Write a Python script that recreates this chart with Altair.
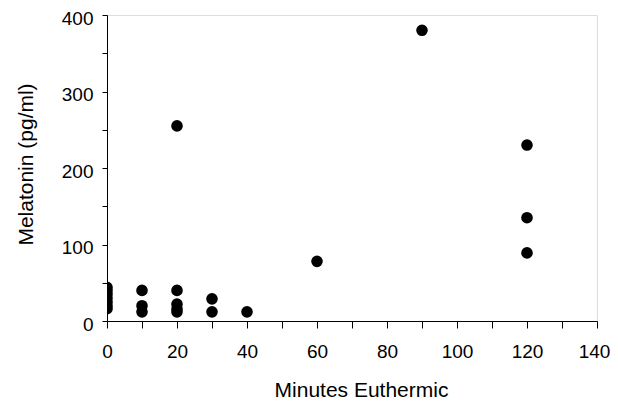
import altair as alt
import pandas as pd

minutes = [0, 0, 0, 0, 0, 0, 0,
           10, 10, 10,
           20, 20, 20, 20, 20,
           30, 30,
           40,
           60,
           90,
           120, 120, 120]
melatonin = [16, 20, 25, 30, 35, 40, 44,
             40, 20, 12,
             255, 40, 22, 16, 12,
             29, 12,
             12,
             78,
             380,
             230, 135, 89]

df = pd.DataFrame({"minutes": minutes, "melatonin": melatonin})

font = "Liberation Sans"

chart = alt.Chart(df).mark_circle(size=135, color="black", opacity=1, clip=True).encode(
    x=alt.X("minutes:Q",
            scale=alt.Scale(domain=[0, 140], nice=False, zero=True),
            axis=alt.Axis(title="Minutes Euthermic",
                          values=list(range(0, 141, 10)),
                          labelExpr="datum.value % 20 == 0 ? datum.label : ''",
                          grid=False, domainColor="black", tickColor="black",
                          tickSize=7, labelPadding=29, labelBaseline="alphabetic",
                          labelOffset={"condition": {"test": "datum.value == 140", "value": -3}, "value": 0},
                          labelFont=font, labelFontSize=19, labelColor="black",
                          labelFlush=False, labelOverlap=False,
                          titleFont=font, titleFontSize=21, titleFontWeight="normal",
                          titleColor="black", titleX=254, titleY=75,
                          titleBaseline="alphabetic")),
    y=alt.Y("melatonin:Q",
            scale=alt.Scale(domain=[0, 400], nice=False),
            axis=alt.Axis(title="Melatonin (pg/ml)",
                          values=list(range(0, 401, 50)),
                          labelExpr="datum.value % 100 == 0 ? datum.label : ''",
                          grid=False, domainColor="black", tickColor="black",
                          tickSize=5, labelPadding=9, labelBaseline="middle",
                          labelOffset=3,
                          labelFont=font, labelFontSize=19, labelColor="black",
                          labelFlush=False, labelOverlap=False,
                          titleFont=font, titleFontSize=21, titleFontWeight="normal",
                          titleColor="black", titleX=-75, titleY=149,
                          titleAngle=-90, titleBaseline="alphabetic")),
).properties(
    width=490, height=306,
    autosize=alt.AutoSizeParams(type="none"),
    padding={"left": 99, "top": 7, "right": 13, "bottom": 80},
).configure_view(stroke=None).configure(background="white")

chart.save("out.html", embed_options={"renderer": "svg", "actions": False})
